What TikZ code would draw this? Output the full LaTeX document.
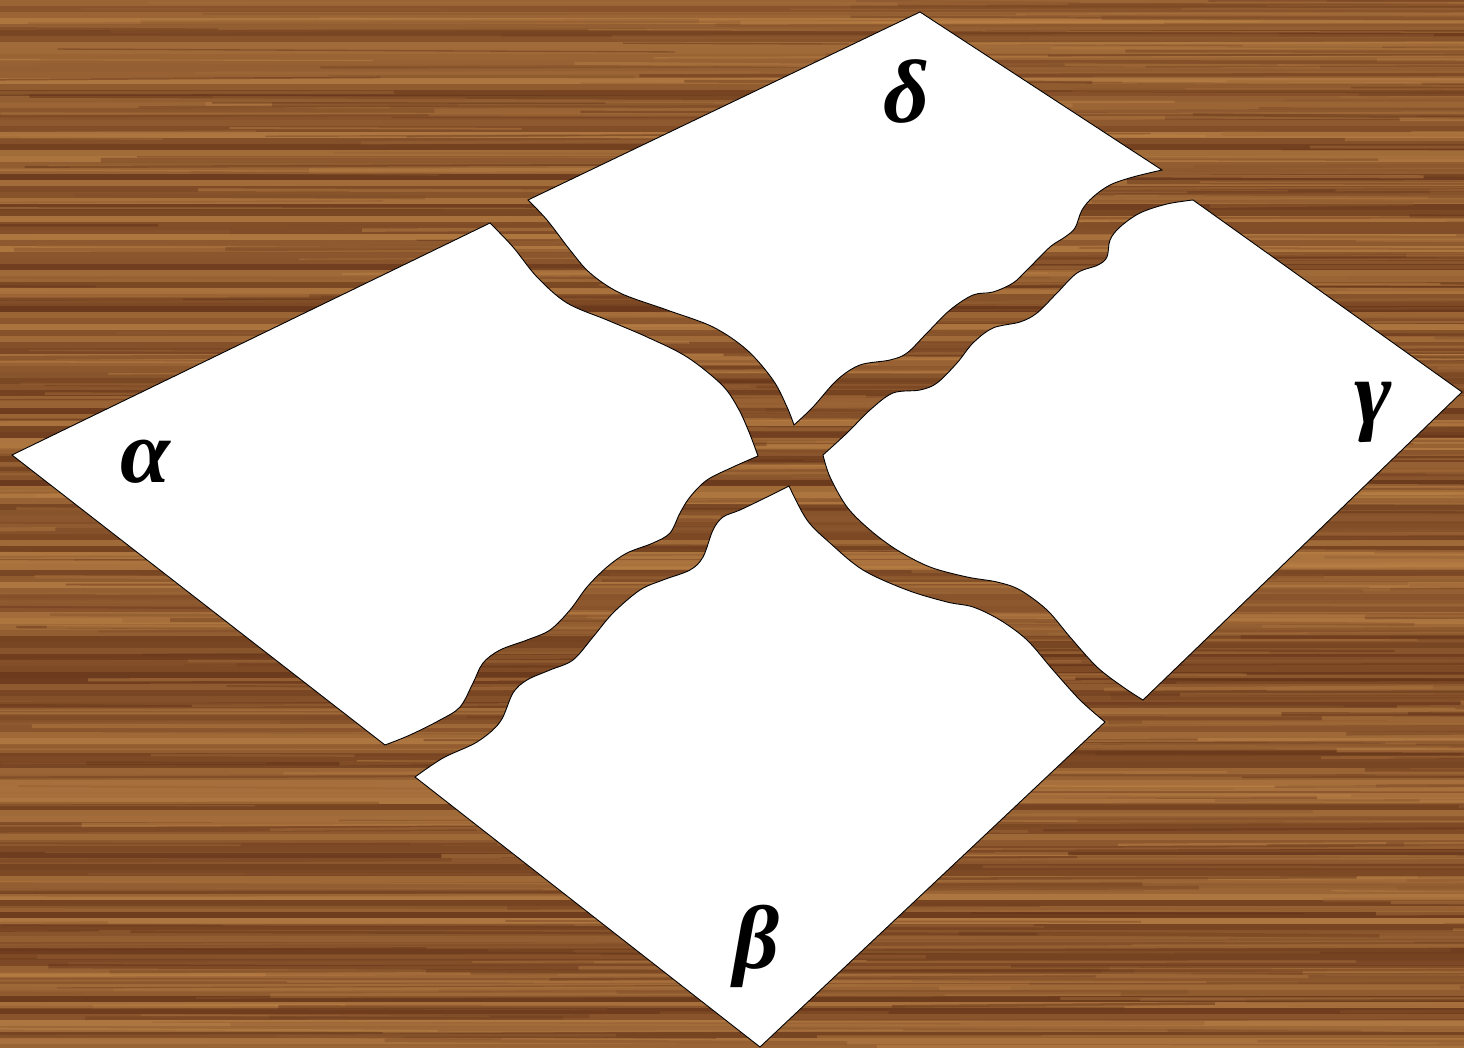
\documentclass[tikz,border=0pt]{standalone}
\usepackage{fontspec}
\newfontfamily\greekfont{Liberation Serif}
\definecolor{woodDark}{RGB}{92,44,20}
\definecolor{woodLight}{RGB}{194,136,74}
\newcommand\tornpt[2]{\pgfplotstreampoint{\pgfpointxy{#1}{#2}}}
\newcommand\tornstart{\pgfsetfillcolor{white}\pgfsetstrokecolor{black}\pgfsetlinewidth{0.9pt}\pgfsetmiterjoin\pgfsetplottension{0.55}\pgfsetlinetofirstplotpoint\pgfplothandlercurveto}
\begin{document}
\begin{tikzpicture}[x=1pt,y=-1pt,
  lbl/.style={inner sep=0pt,font=\greekfont\bfseries\itshape\fontsize{90}{90}\selectfont}]
\useasboundingbox (0,0) rectangle (1464,1048);
% wood background
\begin{scope}
\clip (0,0) rectangle (1464,1048);
\pgfmathsetseed{4242}
\foreach \yy in {0,6,...,1044}{
  \pgfmathtruncatemacro\cc{20+rnd*65}
  \fill[woodDark!\cc!woodLight] (0,\yy) rectangle (1464,\yy+7);
}
\foreach \k in {1,...,700}{
  \pgfmathsetmacro\ya{rnd*1048}
  \pgfmathsetmacro\xa{rnd*1664-200}
  \pgfmathsetmacro\lena{200+rnd*800}
  \pgfmathsetmacro\wa{1+rnd*3.5}
  \pgfmathtruncatemacro\cc{rnd*100}
  \pgfmathsetmacro\yb{\ya+rnd*6-3}
  \pgfmathsetmacro\xb{\xa+\lena}
  \draw[line width=\wa pt, draw=woodDark!\cc!woodLight, opacity=.45] (\xa,\ya) -- (\xb,\yb);
}
\end{scope}
% alpha piece
\begin{pgfscope}
\tornstart
\pgfpathmoveto{\pgfpointxy{12}{455}}
\pgfpathlineto{\pgfpointxy{490}{223}}
\pgfplotstreamstart
\tornpt{490}{223}\tornpt{513}{247}\tornpt{537}{277}\tornpt{567}{303}\tornpt{607}{320}\tornpt{647}{337}\tornpt{687}{357}\tornpt{722}{385}\tornpt{738}{408}\tornpt{749}{432}\tornpt{758}{456}
\pgfplotstreamend
\pgfplotstreamstart
\tornpt{758}{456}\tornpt{733}{467}\tornpt{707}{480}\tornpt{690}{497}\tornpt{680}{513}\tornpt{670}{533}\tornpt{653}{543}\tornpt{627}{553}\tornpt{607}{567}\tornpt{587}{587}\tornpt{570}{610}\tornpt{550}{630}\tornpt{527}{640}\tornpt{500}{650}\tornpt{483}{663}\tornpt{473}{683}\tornpt{460}{707}\tornpt{440}{720}\tornpt{410}{735}\tornpt{385}{745}
\pgfplotstreamend
\pgfpathclose
\pgfusepath{fill,stroke}
\end{pgfscope}
% delta piece
\begin{pgfscope}
\tornstart
\pgfpathmoveto{\pgfpointxy{920}{12}}
\pgfpathlineto{\pgfpointxy{1162}{170}}
\pgfplotstreamstart
\tornpt{1162}{170}\tornpt{1133}{177}\tornpt{1110}{185}\tornpt{1093}{197}\tornpt{1082}{210}\tornpt{1075}{228}\tornpt{1065}{237}\tornpt{1050}{247}\tornpt{1027}{270}\tornpt{1013}{283}\tornpt{993}{292}\tornpt{973}{295}\tornpt{950}{310}\tornpt{927}{333}\tornpt{907}{353}\tornpt{890}{360}\tornpt{860}{365}\tornpt{837}{380}\tornpt{813}{407}\tornpt{794}{425}
\pgfplotstreamend
\pgfplotstreamstart
\tornpt{794}{425}\tornpt{787}{407}\tornpt{773}{380}\tornpt{747}{350}\tornpt{713}{327}\tornpt{667}{310}\tornpt{620}{293}\tornpt{590}{273}\tornpt{570}{250}\tornpt{547}{220}\tornpt{528}{200}
\pgfplotstreamend
\pgfpathclose
\pgfusepath{fill,stroke}
\end{pgfscope}
% gamma piece
\begin{pgfscope}
\tornstart
\pgfpathmoveto{\pgfpointxy{1193}{200}}
\pgfpathlineto{\pgfpointxy{1462}{392}}
\pgfpathlineto{\pgfpointxy{1143}{700}}
\pgfplotstreamstart
\tornpt{1143}{700}\tornpt{1123}{687}\tornpt{1097}{667}\tornpt{1070}{637}\tornpt{1047}{610}\tornpt{1020}{590}\tornpt{997}{582}\tornpt{967}{577}\tornpt{930}{567}\tornpt{897}{550}\tornpt{870}{530}\tornpt{847}{507}\tornpt{830}{477}\tornpt{823}{455}
\pgfplotstreamend
\pgfplotstreamstart
\tornpt{823}{455}\tornpt{847}{433}\tornpt{870}{410}\tornpt{893}{393}\tornpt{920}{390}\tornpt{937}{383}\tornpt{957}{363}\tornpt{973}{343}\tornpt{993}{328}\tornpt{1020}{322}\tornpt{1037}{313}\tornpt{1057}{293}\tornpt{1077}{273}\tornpt{1098}{265}\tornpt{1107}{257}\tornpt{1110}{240}\tornpt{1120}{227}\tornpt{1140}{213}\tornpt{1167}{204}\tornpt{1193}{200}
\pgfplotstreamend
\pgfpathclose
\pgfusepath{fill,stroke}
\end{pgfscope}
% beta piece
\begin{pgfscope}
\tornstart
\pgfpathmoveto{\pgfpointxy{415}{777}}
\pgfplotstreamstart
\tornpt{415}{777}\tornpt{443}{758}\tornpt{477}{742}\tornpt{500}{722}\tornpt{513}{693}\tornpt{527}{680}\tornpt{550}{670}\tornpt{573}{660}\tornpt{593}{637}\tornpt{613}{613}\tornpt{640}{590}\tornpt{663}{580}\tornpt{690}{570}\tornpt{703}{557}\tornpt{713}{530}\tornpt{723}{517}\tornpt{740}{510}\tornpt{767}{497}\tornpt{789}{486}
\pgfplotstreamend
\pgfplotstreamstart
\tornpt{789}{486}\tornpt{807}{520}\tornpt{830}{543}\tornpt{863}{570}\tornpt{907}{590}\tornpt{947}{602}\tornpt{973}{607}\tornpt{1000}{620}\tornpt{1027}{640}\tornpt{1053}{670}\tornpt{1080}{700}\tornpt{1105}{722}
\pgfplotstreamend
\pgfpathlineto{\pgfpointxy{760}{1047}}
\pgfpathclose
\pgfusepath{fill,stroke}
\end{pgfscope}
% labels
\node[lbl] (alpha) at (145,462) {α};
\node[lbl] (delta) at (907,92) {δ};
\node[lbl] (gamma) at (1373,412) {γ};
\node[lbl] (beta) at (757,946) {β};
\end{tikzpicture}
\end{document}
